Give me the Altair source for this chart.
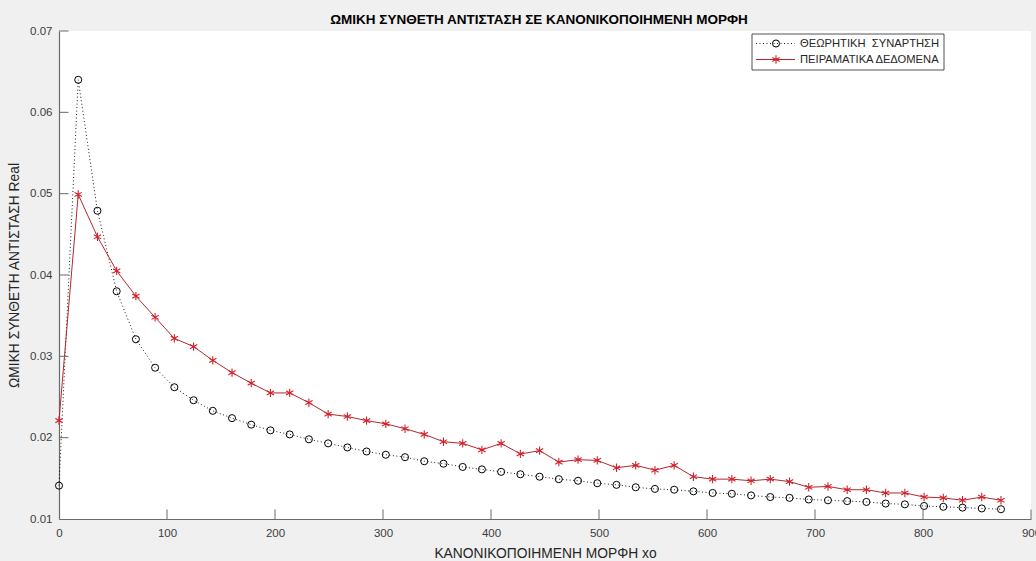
import altair as alt
import pandas as pd

# ---- data ----
xo = [0.0, 17.8, 35.6, 53.4, 71.2, 89.0, 106.8, 124.6, 142.4, 160.2,
      178.0, 195.8, 213.6, 231.4, 249.2, 267.0, 284.8, 302.6, 320.4, 338.2,
      356.0, 373.8, 391.6, 409.4, 427.2, 445.0, 462.8, 480.6, 498.4, 516.2,
      534.0, 551.8, 569.6, 587.4, 605.2, 623.0, 640.8, 658.6, 676.4, 694.2,
      712.0, 729.8, 747.6, 765.4, 783.2, 801.0, 818.8, 836.6, 854.4, 872.2]

theory = [0.0141, 0.0640, 0.0479, 0.0380, 0.0321, 0.0286, 0.0262, 0.0246, 0.0233, 0.0224,
          0.0216, 0.0209, 0.0204, 0.0198, 0.0193, 0.0188, 0.0183, 0.0179, 0.0176, 0.0171,
          0.0168, 0.0164, 0.0161, 0.0158, 0.0155, 0.0152, 0.0149, 0.0147, 0.0144, 0.0142,
          0.0139, 0.0137, 0.0136, 0.0134, 0.0132, 0.0131, 0.0129, 0.0127, 0.0126, 0.0124,
          0.0123, 0.0122, 0.0121, 0.0119, 0.0118, 0.0116, 0.0115, 0.0114, 0.0113, 0.0112]

measured = [0.0221, 0.0499, 0.0447, 0.0405, 0.0374, 0.0348, 0.0322, 0.0312, 0.0295, 0.0280,
            0.0267, 0.0255, 0.0255, 0.0243, 0.0229, 0.0226, 0.0221, 0.0217, 0.0211, 0.0204,
            0.0195, 0.0193, 0.0185, 0.0193, 0.0180, 0.0184, 0.0170, 0.0173, 0.0172, 0.0163,
            0.0166, 0.0160, 0.0166, 0.0152, 0.0149, 0.0149, 0.0147, 0.0149, 0.0146, 0.0139,
            0.0140, 0.0136, 0.0136, 0.0132, 0.0132, 0.0127, 0.0126, 0.0123, 0.0127, 0.0123]

x_ticks = [0, 100, 200, 300, 400, 500, 600, 700, 800, 900]
y_ticks = [0.01, 0.02, 0.03, 0.04, 0.05, 0.06, 0.07]

title_text = "ΩΜΙΚΗ ΣΥΝΘΕΤΗ ΑΝΤΙΣΤΑΣΗ ΣΕ ΚΑΝΟΝΙΚΟΠΟΙΗΜΕΝΗ ΜΟΡΦΗ"
x_title = "ΚΑΝΟΝΙΚΟΠΟΙΗΜΕΝΗ ΜΟΡΦΗ xo"
y_title = "ΩΜΙΚΗ ΣΥΝΘΕΤΗ ΑΝΤΙΣΤΑΣΗ Real"
legend_labels = ["ΘΕΩΡΗΤΙΚΗ\u00a0 ΣΥΝΑΡΤΗΣΗ", "ΠΕΙΡΑΜΑΤΙΚΑ ΔΕΔΟΜΕΝΑ"]

# ---- styling ----
FONT = "Liberation Sans"
W, H = 972, 488
AX = "#6a6a6a"
LBL = "#3c3c3c"
RED_LINE = "#b3282d"
RED_MARK = "#d4202a"
STAR = "M0,-1L0,1M-0.87,-0.5L0.87,0.5M-0.87,0.5L0.87,-0.5"

df_t = pd.DataFrame({"x": xo, "y": theory})
df_m = pd.DataFrame({"x": xo, "y": measured})
df_xt = pd.DataFrame({"x": x_ticks[1:]})
df_yt = pd.DataFrame({"y": y_ticks[1:]})
one = pd.DataFrame({"a": [0]})

xs = alt.Scale(domain=[0, 900], nice=False, zero=False)
ys = alt.Scale(domain=[0.01, 0.07], nice=False, zero=False)

xaxis = alt.Axis(values=x_ticks, format="d", grid=False, ticks=False,
                 domainColor=AX, domainWidth=1.2, labelFlush=False, labelOverlap=False,
                 labelFont=FONT, labelFontSize=11.5, labelColor=LBL, labelPadding=8,
                 title=x_title, titleFont=FONT, titleFontSize=13.8, titleFontWeight="normal",
                 titleColor="#262626", titleY=38, titleBaseline="alphabetic")
yaxis = alt.Axis(values=y_ticks, format=".2f", grid=False, ticks=False,
                 domainColor=AX, domainWidth=1.2, labelFlush=False, labelOverlap=False,
                 labelFont=FONT, labelFontSize=11.5, labelColor=LBL, labelPadding=7,
                 title=y_title, titleFont=FONT, titleFontSize=13.8, titleFontWeight="normal",
                 titleColor="#262626", titleX=-41, titleBaseline="alphabetic")

X = alt.X("x:Q", scale=xs, axis=xaxis)
Y = alt.Y("y:Q", scale=ys, axis=yaxis)

theory_line = alt.Chart(df_t).mark_line(color="black", strokeWidth=0.9, strokeDash=[1, 2.5]).encode(x=X, y=Y)
theory_pts = alt.Chart(df_t).mark_point(shape="circle", size=50, color="black", strokeWidth=1,
                                        filled=False, opacity=1).encode(x=X, y=Y)
meas_line = alt.Chart(df_m).mark_line(color=RED_LINE, strokeWidth=1).encode(x=X, y=Y)
meas_pts = alt.Chart(df_m).mark_point(shape=STAR, size=70, color=RED_MARK, strokeWidth=1.1,
                                      filled=False, opacity=1).encode(x=X, y=Y)

xticks = alt.Chart(df_xt).mark_rule(color=AX, strokeWidth=1).encode(
    x=X, y=alt.value(H), y2=alt.value(H - 9.5))
yticks = alt.Chart(df_yt).mark_rule(color=AX, strokeWidth=1).encode(
    y=Y, x=alt.value(0), x2=alt.value(9.5))

# ---- legend box ----
box = alt.Chart(one).mark_rect(fill="white", stroke="#262626", strokeWidth=0.8).encode(
    x=alt.value(693), x2=alt.value(885), y=alt.value(3), y2=alt.value(39))
r1, r2 = 12.5, 28.5
leg_l1 = alt.Chart(one).mark_rule(color="black", strokeWidth=0.9, strokeDash=[1, 2.5]).encode(
    x=alt.value(697), x2=alt.value(736), y=alt.value(r1))
leg_p1 = alt.Chart(one).mark_point(shape="circle", size=50, color="black", strokeWidth=1,
                                   filled=False, opacity=1).encode(x=alt.value(717), y=alt.value(r1))
leg_t1 = alt.Chart(one).mark_text(text=legend_labels[0], align="left", baseline="middle",
                                  font=FONT, fontSize=11.2, color="#262626").encode(
    x=alt.value(741), y=alt.value(r1))
leg_l2 = alt.Chart(one).mark_rule(color=RED_LINE, strokeWidth=1).encode(
    x=alt.value(697), x2=alt.value(736), y=alt.value(r2))
leg_p2 = alt.Chart(one).mark_point(shape=STAR, size=70, color=RED_MARK, strokeWidth=1.1,
                                   filled=False, opacity=1).encode(x=alt.value(717), y=alt.value(r2))
leg_t2 = alt.Chart(one).mark_text(text=legend_labels[1], align="left", baseline="middle",
                                  font=FONT, fontSize=11.2, color="#262626").encode(
    x=alt.value(741), y=alt.value(r2))

chart = alt.layer(
    theory_line, meas_line, theory_pts, meas_pts, xticks, yticks,
    box, leg_l1, leg_p1, leg_t1, leg_l2, leg_p2, leg_t2
).properties(
    width=W, height=H,
    title=alt.Title(title_text, font=FONT, fontSize=13.5, fontWeight="bold", color="black",
                    anchor="middle", offset=8, baseline="alphabetic", dx=-6, dy=20),
    autosize=alt.AutoSizeParams(type="none"),
    padding={"left": 59, "top": 31, "right": 5, "bottom": 42},
).configure(background="#f0f0f0").configure_view(fill="white", stroke=None)

chart.save("out.html", embed_options={"renderer": "svg", "actions": False})
